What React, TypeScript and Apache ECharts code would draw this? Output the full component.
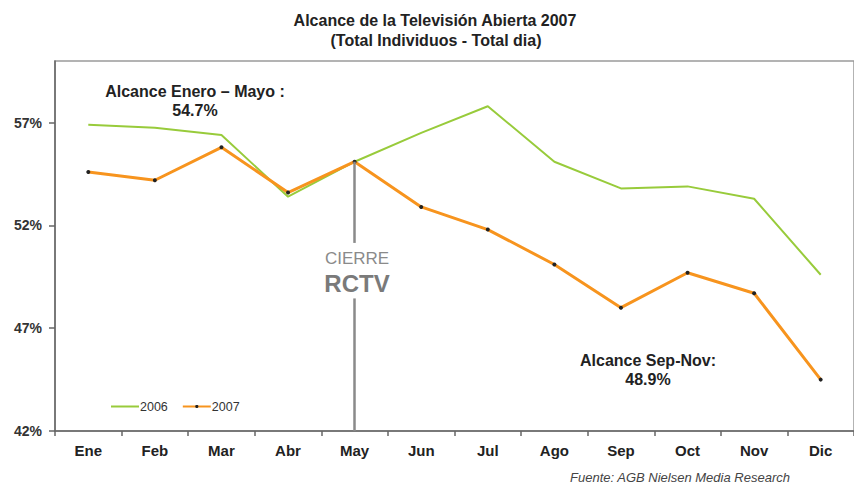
import React, { useEffect, useRef } from "react";
import * as echarts from "echarts";

const months = ["Ene", "Feb", "Mar", "Abr", "May", "Jun", "Jul", "Ago", "Sep", "Oct", "Nov", "Dic"];
const values2006 = [56.9, 56.75, 56.4, 53.4, 55.1, 56.5, 57.8, 55.1, 53.8, 53.9, 53.3, 49.6];
const values2007 = [54.6, 54.2, 55.8, 53.6, 55.1, 52.9, 51.8, 50.1, 48.0, 49.7, 48.7, 44.5];
const yTicks = [42, 47, 52, 57];
const cierreMonth = "May";
const cierreUpper = [55.1, 51.15];
const cierreLower = [48.45, 42];

const FONT = "'Liberation Sans', Arial, sans-serif";

export default function App() {
  const ref = useRef<HTMLDivElement>(null);
  useEffect(() => {
    if (!ref.current) return;
    const chart = echarts.init(ref.current, null, { renderer: "svg" });
    const txt = (text: string, x: number, y: number, extra: any) => ({
      type: "text",
      x,
      y,
      style: {
        text,
        fontFamily: FONT,
        fontSize: 16,
        fontWeight: "bold",
        fill: "#222",
        textAlign: "center",
        textVerticalAlign: "middle",
        ...extra,
      },
    });
    chart.setOption({
      animation: false,
      backgroundColor: "#ffffff",
      legend: {
        left: 105,
        top: 395,
        itemWidth: 28,
        itemHeight: 4,
        itemGap: 14,
        textStyle: { fontFamily: FONT, fontSize: 12.5, color: "#333", padding: [0, 0, 0, -4] },
        data: [
          { name: "2006", itemStyle: { opacity: 0 } },
          { name: "2007" },
        ],
      },
      grid: {
        left: 55,
        top: 61,
        width: 804,
        height: 370,
        show: true,
        borderColor: "#9a9a9a",
        borderWidth: 1.5,
      },
      xAxis: {
        type: "category",
        data: months,
        boundaryGap: true,
        axisLine: { lineStyle: { color: "#666", width: 1.5 } },
        axisTick: { show: true, length: 5, lineStyle: { color: "#666", width: 1.5 } },
        axisLabel: { fontFamily: FONT, fontSize: 15, fontWeight: "bold", color: "#222", margin: 12 },
      },
      yAxis: {
        type: "value",
        min: 42,
        max: 60,
        splitLine: { show: false },
        axisLine: { show: true, lineStyle: { color: "#666", width: 1.5 } },
        axisTick: { show: true, length: 6, customValues: yTicks, lineStyle: { color: "#666", width: 1.5 } },
        axisLabel: {
          customValues: yTicks,
          formatter: "{value}%",
          fontFamily: FONT,
          fontSize: 14,
          fontWeight: "bold",
          color: "#333",
          margin: 13,
        },
      },
      series: [
        {
          name: "2006",
          type: "line",
          data: values2006,
          symbol: "none",
          lineStyle: { color: "#98CB3B", width: 2 },
          itemStyle: { color: "#98CB3B" },
          z: 2,
        },
        {
          name: "2007",
          type: "line",
          data: values2007,
          symbol: "circle",
          symbolSize: 4,
          lineStyle: { color: "#F7941E", width: 3 },
          itemStyle: { color: "#222" },
          z: 3,
          markLine: {
            silent: true,
            symbol: "none",
            label: { show: false },
            lineStyle: { color: "#8a8a8a", width: 2.5, type: "solid" },
            data: [
              [{ coord: [cierreMonth, cierreUpper[0]] }, { coord: [cierreMonth, cierreUpper[1]] }],
              [{ coord: [cierreMonth, cierreLower[0]] }, { coord: [cierreMonth, cierreLower[1]] }],
            ],
          },
        },
      ],
      graphic: [
        txt("Alcance de la Televisión Abierta 2007", 435, 20, {}),
        txt("(Total Individuos - Total dia)", 436, 40, {}),
        txt("Alcance Enero – Mayo :", 195, 91, {}),
        txt("54.7%", 195, 110, {}),
        txt("Alcance Sep-Nov:", 648, 360, {}),
        txt("48.9%", 648, 379, {}),
        txt("CIERRE", 357, 258, { fontSize: 17, fontWeight: "normal", fill: "#8a8a8a" }),
        txt("RCTV", 357, 283, { fontSize: 24, fill: "#7a7a7a" }),
        txt("Fuente: AGB Nielsen Media Research", 680, 477, {
          fontSize: 13,
          fontWeight: "normal",
          fontStyle: "italic",
          fill: "#444",
        }),
      ],
    });
    return () => chart.dispose();
  }, []);
  return (
    <div
      ref={ref}
      style={{ position: "absolute", left: 0, top: 0, width: 854, height: 485, overflow: "hidden" }}
    />
  );
}
